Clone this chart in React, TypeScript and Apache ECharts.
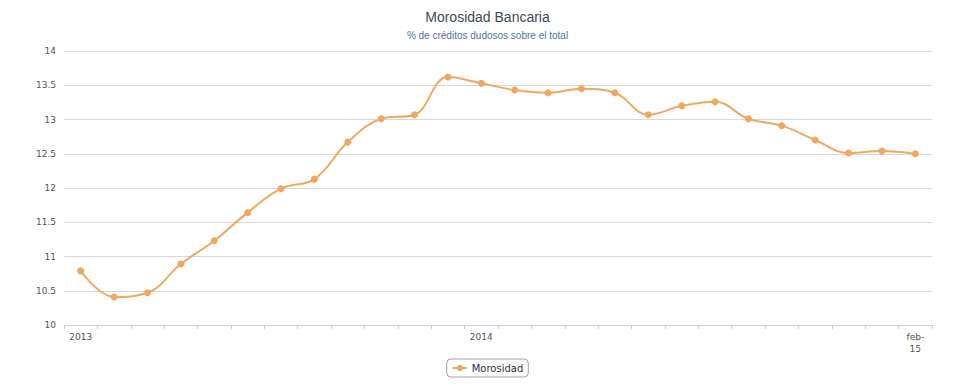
import React, { useEffect, useRef } from "react";
import * as echarts from "echarts";

const categories = [
  "2013", "feb-13", "mar-13", "abr-13", "may-13", "jun-13", "jul-13", "ago-13", "sep-13", "oct-13", "nov-13", "dic-13",
  "2014", "feb-14", "mar-14", "abr-14", "may-14", "jun-14", "jul-14", "ago-14", "sep-14", "oct-14", "nov-14", "dic-14",
  "ene-15", "feb-\n15",
];
const labeledIndices = [0, 12, 25];
const morosidad = [
  10.79, 10.41, 10.47, 10.89, 11.23, 11.64, 11.99, 12.13, 12.67, 13.01, 13.07, 13.62,
  13.53, 13.43, 13.39, 13.45, 13.39, 13.07, 13.2, 13.26, 13.01, 12.91, 12.7, 12.51,
  12.54, 12.5,
];
const titleText = "Morosidad Bancaria";
const subtitleText = "% de créditos dudosos sobre el total";
const seriesName = "Morosidad";

export default function App() {
  const ref = useRef<HTMLDivElement>(null);
  useEffect(() => {
    if (!ref.current) return;
    const chart = echarts.init(ref.current, undefined, { renderer: "svg" });
    chart.setOption({
      animation: false,
      backgroundColor: "#ffffff",
      title: {
        text: titleText,
        subtext: subtitleText,
        left: "center",
        top: 5,
        itemGap: 6,
        textStyle: { fontFamily: "Liberation Sans", fontSize: 14, fontWeight: "normal", color: "#3d4a57" },
        subtextStyle: { fontFamily: "Liberation Sans", fontSize: 10, color: "#4d759e" },
      },
      legend: {
        data: [seriesName],
        bottom: 13,
        left: "center",
        borderColor: "#a0a0a0",
        borderWidth: 1,
        borderRadius: 4,
        padding: [4, 5, 4, 5],
        itemWidth: 14,
        itemHeight: 8,
        itemGap: 4,
        textStyle: { fontFamily: "DejaVu Sans", fontSize: 10, color: "#333" },
      },
      grid: { left: 64, right: 43, top: 51, bottom: 65, containLabel: false },
      xAxis: {
        type: "category",
        data: categories,
        boundaryGap: true,
        axisLine: { show: true, lineStyle: { color: "#c0d0e0", width: 1 } },
        axisTick: { show: true, interval: 0, length: 4, lineStyle: { color: "#c0d0e0" } },
        axisLabel: {
          interval: (index: number) => labeledIndices.includes(index),
          fontFamily: "DejaVu Sans",
          fontSize: 9,
          color: "#555",
          margin: 6,
          lineHeight: 12,
        },
        splitLine: { show: false },
      },
      yAxis: {
        type: "value",
        min: 10,
        max: 14,
        interval: 0.5,
        axisLine: { show: false },
        axisTick: { show: false },
        axisLabel: { fontFamily: "DejaVu Sans", fontSize: 9, color: "#555", margin: 8 },
        splitLine: { lineStyle: { color: "#d8d8d8", width: 1 } },
      },
      series: [
        {
          name: seriesName,
          type: "line",
          data: morosidad,
          smooth: 0.4,
          symbol: "circle",
          symbolSize: 7,
          lineStyle: { color: "#f0a860", width: 2 },
          itemStyle: { color: "#f0a860" },
        },
      ],
    });
    return () => chart.dispose();
  }, []);
  return (
    <div
      ref={ref}
      style={{ position: "fixed", left: 0, top: 0, width: 975, height: 390 }}
    />
  );
}
